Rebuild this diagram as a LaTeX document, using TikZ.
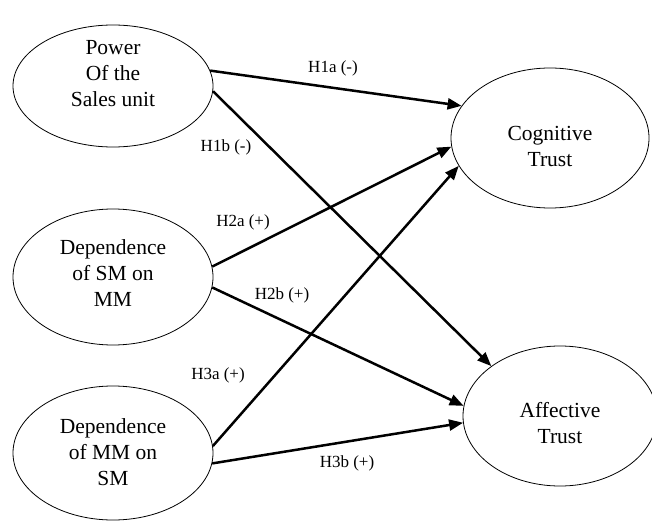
\documentclass[tikz,border=0pt]{standalone}
\usepackage{fontspec}
\setmainfont{Liberation Serif}
\usetikzlibrary{shapes.geometric,arrows.meta}
\begin{document}
\begin{tikzpicture}[x=1pt,y=-1pt,
  ell/.style={draw,ellipse,line width=0.8pt,inner sep=0pt},
  txt/.style={align=center,font=\fontsize{21.5}{26}\selectfont,inner sep=0pt},
  lab/.style={font=\fontsize{17}{20}\selectfont,inner sep=0pt},
  arr/.style={line width=2.5pt,-{Triangle[length=14pt,width=11pt]}}]
\useasboundingbox (0,0) rectangle (652,521);
% ellipses
\node[ell,minimum width=200pt,minimum height=122pt] (p) at (113,86) {};
\node[ell,minimum width=200pt,minimum height=136pt] (s) at (113,277) {};
\node[ell,minimum width=200pt,minimum height=134pt] (m) at (113,453) {};
\node[ell,minimum width=198pt,minimum height=140pt] (c) at (550,138) {};
\node[ell,minimum width=194pt,minimum height=140pt] (a) at (560,416) {};
% texts
\node[txt] (pt) at (113,74) {Power\\Of the\\Sales unit};
\node[txt] (st) at (113,273) {Dependence\\of SM on\\MM};
\node[txt] (mt) at (113,452) {Dependence\\of MM on\\SM};
\node[txt] (ct) at (550,146) {Cognitive\\Trust};
\node[txt] (at) at (560,423) {Affective\\Trust};
% arrows
\draw[arr] (p.9) -- (c.160.6);
\draw[arr] (p.-3) -- (a.144.7);
\draw[arr] (s.6.3) -- (c.185.6);
\draw[arr] (s.-6.3) -- (a.174);
\draw[arr] (m.4.6) -- (c.197.9);
\draw[arr] (m.-6.3) -- (a.184.7);
% labels
\node[lab] (l1a) at (333,68) {H1a (-)};
\node[lab] (l1b) at (226,147) {H1b (-)};
\node[lab] (l2a) at (243,222) {H2a (+)};
\node[lab] (l2b) at (282,295) {H2b (+)};
\node[lab] (l3a) at (218,375) {H3a (+)};
\node[lab] (l3b) at (347,463) {H3b (+)};
\end{tikzpicture}
\end{document}
